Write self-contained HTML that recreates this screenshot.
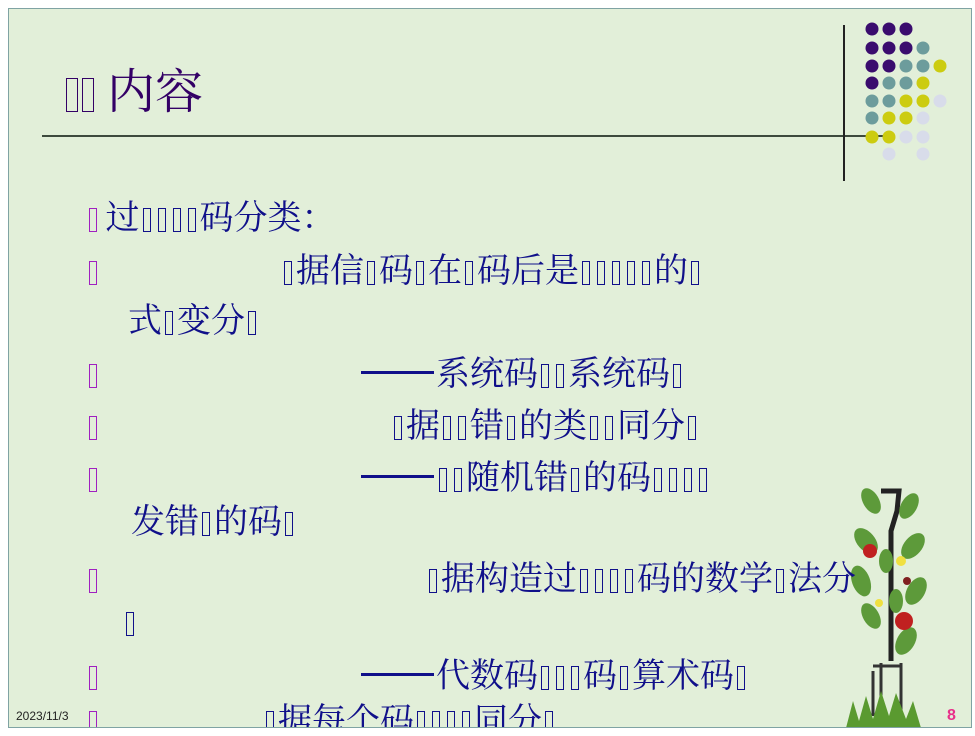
<!DOCTYPE html>
<html><head><meta charset="utf-8"><style>
html,body{margin:0;padding:0;background:#fff;}
#s{position:absolute;left:8px;top:8px;width:962px;height:718px;background:#e2efd9;border:1px solid #7fa3a3;overflow:hidden;}
.l{position:absolute;font-family:"Liberation Serif","Noto Serif CJK SC",serif;font-size:34px;line-height:38px;color:#10108a;white-space:nowrap;}
.t{display:inline-block;width:8px;height:24px;border:1px solid #10108a;margin:0 4px 0 3px;vertical-align:-3px;box-sizing:border-box;}
.b{display:inline-block;width:8px;height:24px;border:1.5px solid #a020c0;vertical-align:-3px;box-sizing:border-box;}
.d{display:inline-block;width:73px;height:3px;background:#10108a;vertical-align:11px;margin-right:2px;}
</style></head><body>
<div id="s">
<div class="l" style="left:57px;top:57px;font-size:48px;line-height:54px;color:#330066;"><span class="t" style="width:12px;height:34px;border-color:#330066;vertical-align:-4px;margin:0 4px 0 0"></span><span class="t" style="width:12px;height:34px;border-color:#330066;vertical-align:-4px;margin:0 13px 0 0"></span>内容</div>
<div style="position:absolute;left:33px;top:126px;width:845px;height:2px;background:#3d4a3d"></div>
<div style="position:absolute;left:834px;top:16px;width:1.5px;height:156px;background:#222"></div>
<svg style="position:absolute;left:0;top:0" width="962" height="200">
<g transform="translate(-8,-8)">
<g fill="#3a0c6e"><circle cx="871" cy="28" r="6.5"/><circle cx="888" cy="28" r="6.5"/><circle cx="905" cy="28" r="6.5"/><circle cx="871" cy="47" r="6.5"/><circle cx="888" cy="47" r="6.5"/><circle cx="905" cy="47" r="6.5"/><circle cx="871" cy="65" r="6.5"/><circle cx="888" cy="65" r="6.5"/><circle cx="871" cy="82" r="6.5"/></g>
<g fill="#6c9c9c"><circle cx="922" cy="47" r="6.5"/><circle cx="905" cy="65" r="6.5"/><circle cx="922" cy="65" r="6.5"/><circle cx="888" cy="82" r="6.5"/><circle cx="905" cy="82" r="6.5"/><circle cx="871" cy="100" r="6.5"/><circle cx="888" cy="100" r="6.5"/><circle cx="871" cy="117" r="6.5"/></g>
<g fill="#cccc10"><circle cx="939" cy="65" r="6.5"/><circle cx="922" cy="82" r="6.5"/><circle cx="905" cy="100" r="6.5"/><circle cx="922" cy="100" r="6.5"/><circle cx="888" cy="117" r="6.5"/><circle cx="905" cy="117" r="6.5"/><circle cx="871" cy="136" r="6.5"/><circle cx="888" cy="136" r="6.5"/></g>
<g fill="#d8dcea"><circle cx="939" cy="100" r="6.5"/><circle cx="922" cy="117" r="6.5"/><circle cx="905" cy="136" r="6.5"/><circle cx="922" cy="136" r="6.5"/><circle cx="888" cy="153" r="6.5"/><circle cx="922" cy="153" r="6.5"/></g>
</g></svg>
<svg style="position:absolute;left:822px;top:440px" width="140" height="280">
<g transform="translate(-830,-448)">
<path d="M880 490 L898 490 L896 510 L890 530 L890 660" stroke="#222" stroke-width="5" fill="none"/>
<path d="M872 670 L872 715 M880 662 L880 715 M900 662 L900 715 M872 665 L900 665" stroke="#333" stroke-width="3" fill="none"/>
<g fill="#5d9a3a">
<ellipse cx="870" cy="500" rx="8" ry="14" transform="rotate(-30 870 500)"/><ellipse cx="908" cy="505" rx="8" ry="14" transform="rotate(30 908 505)"/>
<ellipse cx="865" cy="540" rx="9" ry="15" transform="rotate(-40 865 540)"/><ellipse cx="912" cy="545" rx="9" ry="15" transform="rotate(40 912 545)"/>
<ellipse cx="860" cy="580" rx="9" ry="16" transform="rotate(-20 860 580)"/><ellipse cx="915" cy="590" rx="9" ry="15" transform="rotate(30 915 590)"/>
<ellipse cx="870" cy="615" rx="8" ry="14" transform="rotate(-30 870 615)"/><ellipse cx="905" cy="640" rx="9" ry="15" transform="rotate(30 905 640)"/>
<ellipse cx="885" cy="560" rx="7" ry="12"/><ellipse cx="895" cy="600" rx="7" ry="12"/>
</g>
<circle cx="869" cy="550" r="7" fill="#c02020"/><circle cx="903" cy="620" r="9" fill="#c02020"/><circle cx="906" cy="580" r="4" fill="#802020"/>
<circle cx="900" cy="560" r="5" fill="#f0e040"/><circle cx="878" cy="602" r="4" fill="#f0e040"/>
<path d="M845 727 L852 700 L858 720 L865 695 L872 718 L880 690 L888 715 L895 692 L905 718 L912 700 L920 727 Z" fill="#5a9a30"/>
</g></svg>
<div class="l" style="left:80px;top:191px"><span class="b"></span> 过<span class="t"></span><span class="t"></span><span class="t"></span><span class="t"></span>码分类：</div>
<div class="l" style="left:80px;top:244px"><span class="b"></span></div>
<div class="l" style="left:272px;top:244px"><span class="t"></span>据信<span class="t"></span>码<span class="t"></span>在<span class="t"></span>码后是<span class="t"></span><span class="t"></span><span class="t"></span><span class="t"></span><span class="t"></span>的<span class="t"></span></div>
<div class="l" style="left:119px;top:294px">式<span class="t"></span>变分<span class="t"></span></div>
<div class="l" style="left:80px;top:347px"><span class="b"></span></div>
<div class="l" style="left:352px;top:347px"><span class="d"></span>系统码<span class="t"></span><span class="t"></span>系统码<span class="t"></span></div>
<div class="l" style="left:80px;top:399px"><span class="b"></span></div>
<div class="l" style="left:382px;top:399px"><span class="t"></span>据<span class="t"></span><span class="t"></span>错<span class="t"></span>的类<span class="t"></span><span class="t"></span>同分<span class="t"></span></div>
<div class="l" style="left:80px;top:451px"><span class="b"></span></div>
<div class="l" style="left:352px;top:451px"><span class="d"></span><span class="t"></span><span class="t"></span>随机错<span class="t"></span>的码<span class="t"></span><span class="t"></span><span class="t"></span><span class="t"></span></div>
<div class="l" style="left:122px;top:495px">发错<span class="t"></span>的码<span class="t"></span></div>
<div class="l" style="left:80px;top:552px"><span class="b"></span></div>
<div class="l" style="left:417px;top:552px"><span class="t"></span>据构造过<span class="t"></span><span class="t"></span><span class="t"></span><span class="t"></span>码的数学<span class="t"></span>法分</div>
<div class="l" style="left:114px;top:595px"><span class="t"></span></div>
<div class="l" style="left:80px;top:649px"><span class="b"></span></div>
<div class="l" style="left:352px;top:649px"><span class="d"></span>代数码<span class="t"></span><span class="t"></span><span class="t"></span>码<span class="t"></span>算术码<span class="t"></span></div>
<div class="l" style="left:80px;top:694px"><span class="b"></span></div>
<div class="l" style="left:254px;top:694px"><span class="t"></span>据每个码<span class="t"></span><span class="t"></span><span class="t"></span><span class="t"></span>同分<span class="t"></span></div>
<div style="position:absolute;left:7px;top:700px;font-family:'Liberation Sans',sans-serif;font-size:12px;color:#222">2023/11/3</div>
<div style="position:absolute;left:938px;top:698px;font-family:'Liberation Sans',sans-serif;font-size:16px;font-weight:bold;color:#e8308a">8</div>
</div>
</body></html>
